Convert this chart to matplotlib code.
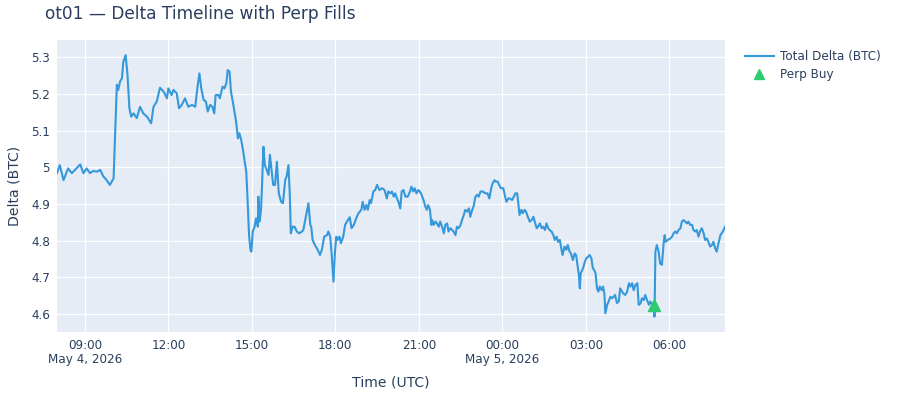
import pandas as pd
import matplotlib
matplotlib.use("Agg")
import matplotlib.pyplot as plt
from matplotlib.lines import Line2D

plt.rcParams['font.family'] = ['DejaVu Sans']

# data: minutes after 2026-05-04 08:00 UTC, delta in BTC
start = pd.Timestamp("2026-05-04 08:00")

minutes = [
    0, 6, 14, 24, 32, 39, 50, 57, 64, 71, 78, 86, 93, 100, 107, 114, 122, 125, 129, 132,
    136, 140, 143, 148, 152, 156, 160, 165, 172, 179, 186, 194, 203, 208, 215, 222, 230,
    237, 240, 247, 251, 258, 263, 269, 276, 283, 291, 298, 303, 307, 311, 316, 321, 325,
    330, 335, 339, 342, 348, 351, 357, 361, 365, 368, 372, 375, 379, 382, 386, 390, 393,
    397, 401, 404, 408, 411, 414, 417, 419, 422, 426, 429, 433, 434, 437, 440, 442, 445,
    448, 452, 456, 459, 463, 466, 470,
    474, 478, 483, 487, 492, 495, 499, 502, 504, 508, 512, 517, 522, 528, 531, 535, 539,
    542, 546, 548, 551, 556, 562, 567, 571, 576, 582, 585, 589, 592, 596, 599, 602, 605,
    609, 612, 617, 621, 627, 631, 635, 640, 645, 650, 656, 659, 663, 667, 670, 674, 677,
    682, 686, 690, 695, 701, 706, 711, 714, 719,
    722, 726, 729, 733, 736, 740, 743, 747, 751, 756, 761, 764, 768, 771, 775, 779, 782,
    786, 790, 793, 797, 800, 804, 807, 809, 812, 816, 819, 823, 826, 830, 834, 837, 841,
    844, 848, 852, 855, 859, 862, 866, 870, 873, 877, 880, 884, 888, 891, 895, 898, 902,
    906, 909, 913, 918, 923, 928, 932, 936, 939, 943, 946, 950, 953, 957, 962, 966, 969,
    973, 976,
    981, 985, 988, 992, 994, 997, 1001, 1004, 1008, 1011, 1015, 1019, 1023, 1027, 1030,
    1034, 1037, 1041, 1045, 1048, 1052, 1055, 1059, 1062, 1066, 1070, 1073, 1077, 1080,
    1084, 1087, 1090, 1094, 1098, 1101, 1105, 1108, 1112, 1116, 1119, 1122, 1125, 1127,
    1129, 1134, 1138, 1141, 1145, 1148, 1152, 1155, 1158, 1161, 1164, 1167, 1170, 1174,
    1177, 1180, 1182, 1186, 1189, 1193, 1196, 1200, 1203, 1207, 1211, 1214, 1218, 1221,
    1225,
    1229, 1233, 1236, 1240, 1243, 1247, 1251, 1254, 1258, 1261, 1265, 1268, 1272, 1276,
    1279, 1283, 1286, 1288, 1290, 1293, 1297, 1300, 1304, 1308, 1310, 1312, 1317, 1322,
    1326, 1329, 1333, 1336, 1340, 1344, 1347, 1351, 1354, 1358, 1361, 1365, 1369, 1372,
    1376, 1379, 1383, 1386, 1390, 1394, 1397, 1401, 1404, 1408, 1412, 1415, 1419, 1422,
    1426, 1430, 1433, 1437, 1440,
]

delta = [
    4.984, 5.006, 4.965, 4.997, 4.984, 4.993, 5.008, 4.984, 4.997, 4.984, 4.990, 4.988,
    4.993, 4.975, 4.965, 4.952, 4.970, 5.079, 5.225, 5.211, 5.234, 5.243, 5.288, 5.306,
    5.252, 5.161, 5.138, 5.147, 5.134, 5.165, 5.147, 5.138, 5.120, 5.165, 5.179, 5.217,
    5.206,
    5.188, 5.215, 5.197, 5.211, 5.202, 5.161, 5.170, 5.188, 5.165, 5.170, 5.165, 5.220,
    5.256, 5.215, 5.184, 5.179, 5.152, 5.170, 5.165, 5.147, 5.197, 5.197, 5.188, 5.220,
    5.215, 5.229, 5.265, 5.261, 5.206, 5.179, 5.156, 5.125, 5.079, 5.093, 5.075, 5.047,
    5.020, 4.988, 4.906, 4.815, 4.775, 4.770, 4.825, 4.838, 4.861, 4.838, 4.920, 4.852,
    4.888, 4.952, 5.056, 5.006, 4.993, 4.979, 5.034, 4.988, 4.952, 4.952,
    5.015, 4.930, 4.906, 4.902, 4.965, 4.975, 5.006, 4.920, 4.820, 4.838, 4.838, 4.825,
    4.820, 4.825, 4.829, 4.856, 4.884, 4.902, 4.843, 4.838, 4.802, 4.788, 4.775, 4.761,
    4.775, 4.811, 4.815, 4.825, 4.811, 4.765, 4.688, 4.765, 4.811, 4.802, 4.811, 4.793,
    4.811, 4.843, 4.856, 4.864, 4.834, 4.843, 4.861, 4.875, 4.884, 4.906, 4.884, 4.897,
    4.884, 4.911, 4.902, 4.934, 4.938, 4.952, 4.938, 4.943, 4.938, 4.915, 4.934, 4.929,
    4.934, 4.920, 4.929, 4.915, 4.906, 4.888, 4.934, 4.938, 4.920, 4.920, 4.934, 4.947,
    4.934, 4.943, 4.929, 4.938, 4.934, 4.925, 4.911, 4.897, 4.884, 4.897, 4.884, 4.843,
    4.856, 4.843, 4.852, 4.847, 4.838, 4.852, 4.838, 4.820, 4.843, 4.847, 4.825, 4.834,
    4.829, 4.825, 4.815, 4.838, 4.834, 4.843, 4.856, 4.870, 4.884, 4.879, 4.888, 4.865,
    4.884, 4.893, 4.920, 4.925, 4.920, 4.934, 4.934, 4.929, 4.929, 4.915, 4.943, 4.956,
    4.965, 4.961, 4.961, 4.952, 4.943, 4.943, 4.920, 4.906, 4.915, 4.915,
    4.911, 4.920, 4.929, 4.929, 4.907, 4.870, 4.884, 4.875, 4.884, 4.879, 4.865, 4.852,
    4.856, 4.865, 4.852, 4.834, 4.838, 4.847, 4.834, 4.838, 4.829, 4.847, 4.834, 4.829,
    4.825, 4.815, 4.802, 4.811, 4.797, 4.802, 4.779, 4.761, 4.784, 4.775, 4.788, 4.770,
    4.765, 4.747, 4.765, 4.761, 4.734, 4.706, 4.670, 4.711, 4.725, 4.743, 4.752, 4.756,
    4.761, 4.752, 4.725, 4.720, 4.711, 4.670, 4.661, 4.675, 4.665, 4.675, 4.656, 4.602,
    4.625, 4.634, 4.647, 4.643, 4.647, 4.652, 4.630, 4.634, 4.670, 4.661, 4.656, 4.652,
    4.661, 4.684, 4.675, 4.684, 4.665, 4.679, 4.684, 4.625, 4.629, 4.643, 4.638, 4.652,
    4.638, 4.625, 4.634, 4.625, 4.629, 4.593, 4.770, 4.788, 4.770, 4.738, 4.734, 4.797,
    4.815, 4.797, 4.802, 4.806, 4.811, 4.820, 4.825, 4.820, 4.829, 4.834, 4.852, 4.856,
    4.852, 4.847, 4.852, 4.843, 4.843, 4.829, 4.825, 4.829, 4.811, 4.825, 4.834, 4.820,
    4.802, 4.806, 4.797, 4.784, 4.788, 4.797, 4.779, 4.770, 4.793, 4.815, 4.820, 4.829,
    4.838,
]

perp_buy_minutes = [1288]
perp_buy_delta = [4.625]

times = start + pd.to_timedelta(minutes, unit="m")
buy_times = start + pd.to_timedelta(perp_buy_minutes, unit="m")

PX = 72 / 100  # px -> pt at 100 dpi
txt = "#2a3f5f"
fig = plt.figure(figsize=(9, 4), dpi=100)
ax = fig.add_axes([57 / 900, 1 - 332 / 400, 668 / 900, 292 / 400])
ax.set_facecolor("#E5ECF6")
for s in ax.spines.values():
    s.set_visible(False)

ax.plot(times, delta, color="#3498db", lw=1.5, zorder=3)
ax.plot(buy_times, perp_buy_delta, ls="none", marker="^", ms=8,
        color="#2ecc71", zorder=4)

ax.set_xlim(start, start + pd.Timedelta(minutes=1440))
ax.set_ylim(4.551, 5.347)

yt = [4.6, 4.7, 4.8, 4.9, 5.0, 5.1, 5.2, 5.3]
ax.set_yticks(yt)
ax.set_yticklabels([f"{v:g}" for v in yt])

xt = pd.date_range("2026-05-04 09:00", periods=8, freq="3h")
xl = []
for i, t in enumerate(xt):
    lab = t.strftime("%H:%M")
    if i == 0 or (t.hour == 0):
        lab += "\n" + f"{t.strftime('%b')} {t.day}, {t.year}"
    xl.append(lab)
ax.set_xticks(xt)
ax.set_xticklabels(xl, linespacing=1.15)

ax.tick_params(length=0, labelsize=12 * PX, colors=txt)
ax.tick_params(axis="x", pad=5)
ax.tick_params(axis="y", pad=5)
ax.grid(True, color="white", lw=0.9)
ax.set_axisbelow(True)

fig.text(45 / 900, 1 - 14 / 400, "ot01 — Delta Timeline with Perp Fills",
         ha="left", va="center", fontsize=17 * PX, color=txt)
fig.text(391 / 900, 1 - 382 / 400, "Time (UTC)", ha="center", va="center",
         fontsize=14 * PX, color=txt)
fig.text(15 / 900, 1 - 186 / 400, "Delta (BTC)", ha="center", va="center",
         rotation=90, fontsize=14 * PX, color=txt)

handles = [
    Line2D([], [], color="#3498db", lw=1.5),
    Line2D([], [], ls="none", marker="^", ms=7, color="#2ecc71"),
]
fig.legend(handles, ["Total Delta (BTC)", "Perp Buy"], loc="upper left",
           bbox_to_anchor=(740 / 900, 1 - 45 / 400), frameon=False,
           fontsize=12 * PX, labelcolor=txt, handlelength=2.4, handletextpad=0.5,
           labelspacing=0.45, borderaxespad=0)

fig.savefig("out.png", dpi=100)
